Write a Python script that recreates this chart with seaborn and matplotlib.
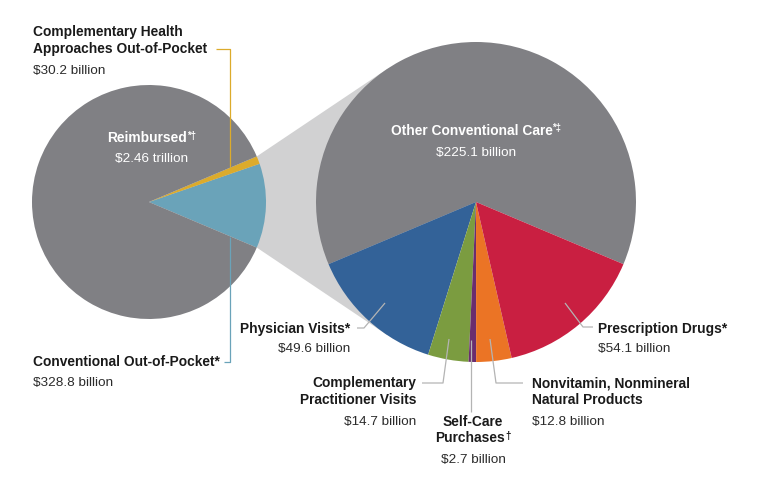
import numpy as np
import matplotlib
matplotlib.use("Agg")
import matplotlib.pyplot as plt
import seaborn as sns

# totals (billions of dollars)
total_labels = ["Conventional Out-of-Pocket*", "Complementary Health\nApproaches Out-of-Pocket", "Reimbursed*\u2020"]
total_values = [328.8, 30.2, 2460.0]
total_text = ["$328.8 billion", "$30.2 billion", "$2.46 trillion"]

# out-of-pocket breakdown (billions of dollars)
oop_labels = ["Other Conventional Care*\u2021", "Physician Visits*", "Complementary\nPractitioner Visits",
              "Self-Care\nPurchases\u2020", "Nonvitamin, Nonmineral\nNatural Products", "Prescription Drugs*"]
oop_values = [225.1, 49.6, 14.7, 2.7, 12.8, 54.1]
oop_text = ["$225.1 billion", "$49.6 billion", "$14.7 billion", "$2.7 billion", "$12.8 billion", "$54.1 billion"]

sns.set_theme(style="white")
plt.rcParams["font.family"] = ["Liberation Sans", "DejaVu Sans"]

left_colors = sns.color_palette(["#6aa3b9", "#dcab2b", "#808084"])
right_colors = sns.color_palette(["#808084", "#336298", "#7b9c40", "#6a2d6e", "#eb7425", "#c91f41"])

W, H = 758, 487
fig = plt.figure(figsize=(W / 100, H / 100), dpi=100)
ax = fig.add_axes([0, 0, 1, 1])
renderer = fig.canvas.get_renderer()


def py(y):
    return H - y


cl, rl = np.array([149.0, py(202)]), 117.0
cr, rr = np.array([476.0, py(202)]), 160.0

# left pie: the two out-of-pocket wedges centred on the right side
oop_share = (total_values[0] + total_values[1]) / sum(total_values) * 360
start_l = -oop_share / 2
ax.pie(total_values, colors=left_colors, center=cl, radius=rl, startangle=start_l,
       counterclock=True, wedgeprops=dict(linewidth=0), normalize=True)

# right pie: "other conventional" centred at the top
start_r = 90 - oop_values[0] / sum(oop_values) * 360 / 2
ax.pie(oop_values, colors=right_colors, center=cr, radius=rr, startangle=start_r,
       counterclock=True, wedgeprops=dict(linewidth=0), normalize=True)


# connector between the two pies
def tangent(p, c, r, upper):
    d = p - c
    dist = np.hypot(*d)
    th = np.arctan2(d[1], d[0])
    al = np.arccos(r / dist)
    pts = [c + r * np.array([np.cos(th + s * al), np.sin(th + s * al)]) for s in (1, -1)]
    pts.sort(key=lambda q: q[1])
    return pts[1] if upper else pts[0]


a_top, a_bot = np.radians(start_l + oop_share), np.radians(start_l)
p_top = cl + rl * np.array([np.cos(a_top), np.sin(a_top)])
p_bot = cl + rl * np.array([np.cos(a_bot), np.sin(a_bot)])
t_top = tangent(p_top, cr, rr, True)
t_bot = tangent(p_bot, cr, rr, False)
poly = np.array([cl, p_top, t_top, cr, t_bot, p_bot])
ax.fill(poly[:, 0], poly[:, 1], color="#d1d1d2", lw=0, zorder=0)

ax.set_xlim(0, W)
ax.set_ylim(0, H)
ax.set_aspect("equal")
ax.axis("off")

FS = 9.9
FS_VAL = 9.7
INK = "#1a1a1a"
VAL = "#2b2b2b"
LEAD = "#b4b4b4"
SUP = "\u2020\u2021"


def line_text(x, b, t, ha, color, weight, fs):
    # daggers are set as small raised marks
    main = t.rstrip(SUP + "*") if t[-1] in SUP else t
    suf = t[len(main):]
    tm = ax.text(0, py(b), main, ha="left", va="baseline", fontsize=fs, fontweight=weight, color=color)
    wm = tm.get_window_extent(renderer).width
    ws = 0
    if suf:
        ts = ax.text(0, py(b) + 3.5, suf, ha="left", va="baseline", fontsize=fs * 0.7,
                     fontweight=weight, color=color)
        ws = ts.get_window_extent(renderer).width
    x0 = {"left": x, "center": x - (wm + ws) / 2, "right": x - wm - ws}[ha]
    tm.set_x(x0)
    if suf:
        ts.set_x(x0 + wm)


def block(x, baselines, lines, ha, color=INK, vcolor=VAL):
    *names, value = lines
    for b, t in zip(baselines[:-1], names):
        line_text(x, b, t, ha, color, "bold", FS)
    line_text(x, baselines[-1], value, ha, vcolor, "normal", FS_VAL)


def lead(xs, ys, color=LEAD):
    ax.plot(xs, [py(v) for v in ys], color=color, lw=0.9, solid_capstyle="butt", zorder=5)


# left pie labels
block(33, [36, 53, 74], total_labels[1].split("\n") + [total_text[1]], "left")
lead([216, 230, 230], [49, 49, 167], color=left_colors[1])
block(33, [366, 386], [total_labels[0], total_text[0]], "left")
lead([230, 230, 224], [237, 362, 362], color=left_colors[0])
block(152, [142, 162], [total_labels[2], total_text[2]], "center", color="white", vcolor="white")

# right pie labels
block(476, [135, 156], [oop_labels[0], oop_text[0]], "center", color="white", vcolor="white")
block(350, [333, 352], [oop_labels[1], oop_text[1]], "right")
lead([357, 364, 385], [328, 328, 303])
block(416, [387, 404, 425], oop_labels[2].split("\n") + [oop_text[2]], "right")
lead([422, 443, 449], [383, 383, 339])
block(473, [426, 442, 463], oop_labels[3].split("\n") + [oop_text[3]], "center")
lead([471, 471], [412, 340])
block(532, [387, 404, 425], oop_labels[4].split("\n") + [oop_text[4]], "left")
lead([523, 496, 490], [383, 383, 339])
block(598, [333, 352], [oop_labels[5], oop_text[5]], "left")
lead([565, 583, 593], [303, 327, 327])

fig.savefig("out.png", dpi=100, facecolor="white")
